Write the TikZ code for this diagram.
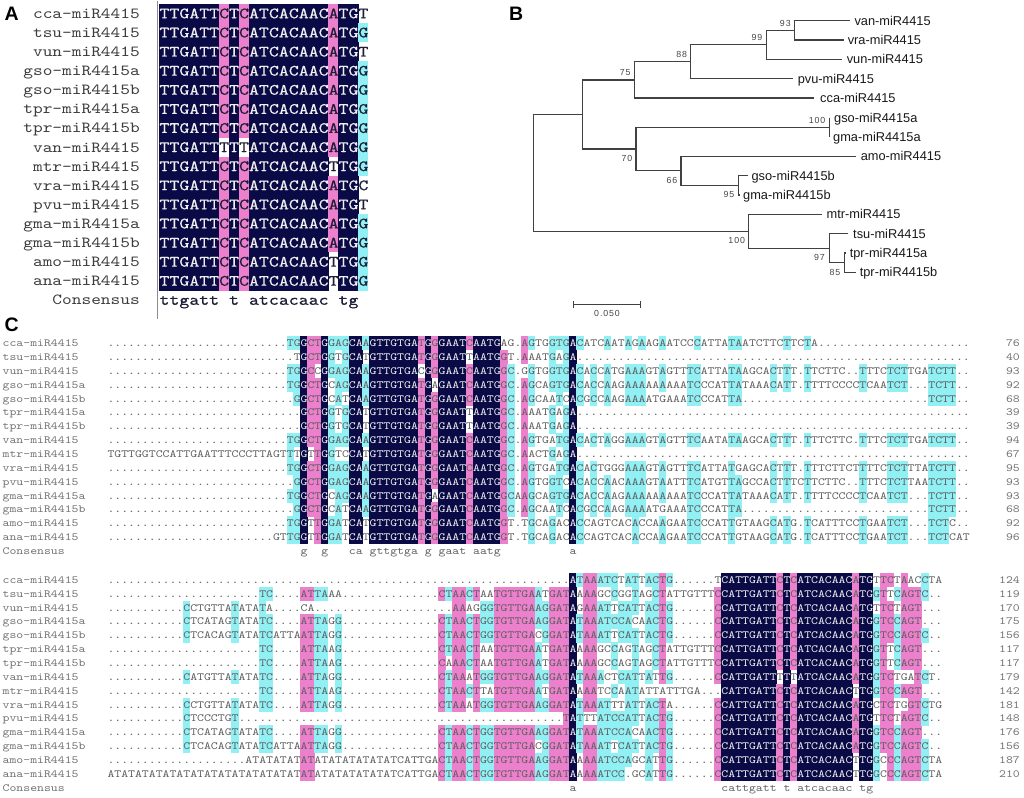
\documentclass[tikz,border=0pt]{standalone}
\usepackage{fontspec}
\setmainfont{Liberation Sans}
\newfontfamily\lab{Liberation Sans}
\newfontfamily\bootf{Liberation Sans}[LetterSpace=10]
\newfontfamily\seqfont{lmmono10-regular.otf}[FakeStretch=1.2]
\newfontfamily\seqfontA{lmmono10-regular.otf}[FakeStretch=1.2,FakeBold=0.4]
\definecolor{navyc}{RGB}{10,10,70}
\definecolor{pinkc}{RGB}{236,128,204}
\definecolor{cyanc}{RGB}{145,240,244}
\definecolor{seqwhite}{RGB}{240,240,240}
\definecolor{seqdark}{RGB}{30,30,55}
\definecolor{seqgray}{RGB}{95,95,95}
\definecolor{namegray}{RGB}{115,115,115}
\definecolor{nameA}{RGB}{60,60,60}
\definecolor{treegray}{RGB}{65,65,65}
\definecolor{bootc}{RGB}{70,70,70}
\definecolor{leafc}{RGB}{25,25,25}

\newcommand\blockfont{}
\newcommand\cellrect[5]{\fill[#5] (#1,#2) rectangle (#3,#4);}
\newcommand\rowtext[4]{\node[anchor=base west,inner sep=0pt,text=#3,font=\blockfont] at (#1,#2) {#4};}

\ExplSyntaxOn
\cs_new:Npn \gap #1 { \prg_replicate:nn {#1} {.} }
\cs_new:Npn \atrep #1 { \prg_replicate:nn {#1} {AT} }
\fp_new:N \l_aln_x_fp
\fp_new:N \l_aln_y_fp
\fp_new:N \l_aln_p_fp
\fp_new:N \l_aln_h_fp
\fp_new:N \l_aln_b_fp
\tl_new:N \l_aln_tc_tl
\int_new:N \l_aln_r_int
\int_new:N \l_aln_n_int
\int_new:N \l_aln_ca_int
\int_new:N \l_aln_cc_int
\int_new:N \l_aln_cg_int
\int_new:N \l_aln_ct_int
\int_new:N \l_aln_max_int
\int_new:N \l_aln_lvl_int
\tl_new:N \l_aln_best_tl
\tl_new:N \l_aln_low_tl
\tl_new:N \l_aln_ch_tl
\tl_new:N \l_aln_col_tl
\tl_new:N \l_aln_cons_tl
\tl_new:N \l_aln_i_tl
\tl_new:N \l_aln_j_tl
\bool_new:N \l_aln_match_bool

\NewDocumentCommand \alignblock { m m m m m m m }
  {
    \fp_set:Nn \l_aln_x_fp {#1}
    \fp_set:Nn \l_aln_y_fp {#2}
    \fp_set:Nn \l_aln_p_fp {#3}
    \fp_set:Nn \l_aln_h_fp {#4}
    \fp_set:Nn \l_aln_b_fp {#5}
    \tl_set:Nn \l_aln_tc_tl {#6}
    \aln_block:n {#7}
  }

\cs_new_protected:Npn \aln_block:n #1
  {
    \int_zero:N \l_aln_r_int
    \clist_map_inline:nn {#1}
      {
        \int_incr:N \l_aln_r_int
        \tl_clear_new:c { l_aln_row_ \int_use:N \l_aln_r_int _tl }
        \tl_set:cx { l_aln_row_ \int_use:N \l_aln_r_int _tl } { ##1 }
        \tl_clear_new:c { l_aln_txt_ \int_use:N \l_aln_r_int _tl }
      }
    \int_set:Nn \l_aln_n_int { \tl_count:c { l_aln_row_1_tl } }
    \tl_clear:N \l_aln_cons_tl
    \int_step_variable:nNn { \l_aln_n_int } \l_aln_j_tl
      {
        \int_zero:N \l_aln_ca_int
        \int_zero:N \l_aln_cc_int
        \int_zero:N \l_aln_cg_int
        \int_zero:N \l_aln_ct_int
        \int_step_variable:nNn { \l_aln_r_int } \l_aln_i_tl
          {
            \tl_set:Nx \l_aln_ch_tl { \tl_item:cn { l_aln_row_ \l_aln_i_tl _tl } { \l_aln_j_tl } }
            \exp_args:NV \str_case:nn \l_aln_ch_tl
              {
                {A} { \int_incr:N \l_aln_ca_int }
                {C} { \int_incr:N \l_aln_cc_int }
                {G} { \int_incr:N \l_aln_cg_int }
                {T} { \int_incr:N \l_aln_ct_int }
              }
          }
        \int_set_eq:NN \l_aln_max_int \l_aln_ca_int
        \tl_set:Nn \l_aln_best_tl {A}
        \tl_set:Nn \l_aln_low_tl {a}
        \int_compare:nNnT { \l_aln_cc_int } > { \l_aln_max_int }
          { \int_set_eq:NN \l_aln_max_int \l_aln_cc_int \tl_set:Nn \l_aln_best_tl {C} \tl_set:Nn \l_aln_low_tl {c} }
        \int_compare:nNnT { \l_aln_cg_int } > { \l_aln_max_int }
          { \int_set_eq:NN \l_aln_max_int \l_aln_cg_int \tl_set:Nn \l_aln_best_tl {G} \tl_set:Nn \l_aln_low_tl {g} }
        \int_compare:nNnT { \l_aln_ct_int } > { \l_aln_max_int }
          { \int_set_eq:NN \l_aln_max_int \l_aln_ct_int \tl_set:Nn \l_aln_best_tl {T} \tl_set:Nn \l_aln_low_tl {t} }
        \int_compare:nNnTF { \l_aln_max_int } = { \l_aln_r_int }
          { \int_set:Nn \l_aln_lvl_int {3} \tl_set:Nn \l_aln_col_tl {navyc} }
          {
            \int_compare:nNnTF { 4 * \l_aln_max_int } > { 3 * \l_aln_r_int - 1 }
              { \int_set:Nn \l_aln_lvl_int {2} \tl_set:Nn \l_aln_col_tl {pinkc} }
              {
                \int_compare:nNnTF { 2 * \l_aln_max_int } > { \l_aln_r_int - 1 }
                  { \int_set:Nn \l_aln_lvl_int {1} \tl_set:Nn \l_aln_col_tl {cyanc} }
                  { \int_set:Nn \l_aln_lvl_int {0} }
              }
          }
        \int_step_variable:nNn { \l_aln_r_int } \l_aln_i_tl
          {
            \tl_set:Nx \l_aln_ch_tl { \tl_item:cn { l_aln_row_ \l_aln_i_tl _tl } { \l_aln_j_tl } }
            \bool_set_false:N \l_aln_match_bool
            \int_compare:nNnT { \l_aln_lvl_int } > { 0 }
              { \tl_if_eq:NNT \l_aln_ch_tl \l_aln_best_tl { \bool_set_true:N \l_aln_match_bool } }
            \bool_if:NTF \l_aln_match_bool
              {
                \use:x
                  {
                    \exp_not:N \cellrect
                      { \fp_eval:n { \l_aln_x_fp + (\l_aln_j_tl - 1) * \l_aln_p_fp - 0.2 } }
                      { \fp_eval:n { \l_aln_y_fp + (\l_aln_i_tl - 1.5) * \l_aln_h_fp - 0.2 } }
                      { \fp_eval:n { \l_aln_x_fp + \l_aln_j_tl * \l_aln_p_fp + 0.2 } }
                      { \fp_eval:n { \l_aln_y_fp + (\l_aln_i_tl - 0.5) * \l_aln_h_fp + 0.2 } }
                      { \l_aln_col_tl }
                  }
                \int_compare:nNnTF { \l_aln_lvl_int } = { 3 }
                  { \tl_put_right:cx { l_aln_txt_ \l_aln_i_tl _tl } { \exp_not:N \textcolor {seqwhite} { \l_aln_ch_tl } } }
                  { \tl_put_right:cx { l_aln_txt_ \l_aln_i_tl _tl } { \l_aln_ch_tl } }
              }
              { \tl_put_right:cx { l_aln_txt_ \l_aln_i_tl _tl } { \l_aln_ch_tl } }
          }
        \int_compare:nNnTF { \l_aln_lvl_int } = { 3 }
          { \tl_put_right:Nx \l_aln_cons_tl { \l_aln_low_tl } }
          { \tl_put_right:Nn \l_aln_cons_tl { \phantom{x} } }
      }
    \int_step_variable:nNn { \l_aln_r_int } \l_aln_i_tl
      {
        \use:x
          {
            \exp_not:N \rowtext
              { \fp_eval:n { \l_aln_x_fp } }
              { \fp_eval:n { \l_aln_y_fp + (\l_aln_i_tl - 1) * \l_aln_h_fp + \l_aln_b_fp } }
              { \l_aln_tc_tl }
              { \exp_not:v { l_aln_txt_ \l_aln_i_tl _tl } }
          }
      }
    \use:x
      {
        \exp_not:N \rowtext
          { \fp_eval:n { \l_aln_x_fp } }
          { \fp_eval:n { \l_aln_y_fp + \l_aln_r_int * \l_aln_h_fp + \l_aln_b_fp } }
          { \l_aln_tc_tl }
          { \exp_not:V \l_aln_cons_tl }
      }
  }
\ExplSyntaxOff

\tikzset{
  tree/.style={draw=treegray, line width=1.2pt},
  leaf/.style={anchor=base west, inner sep=0pt, text=leafc, font=\lab\fontsize{12.8}{14}\selectfont},
  boot/.style={anchor=base, inner sep=0pt, text=bootc, font=\bootf\fontsize{8.8}{10}\selectfont},
  panel/.style={anchor=base west, inner sep=0pt, font=\lab\bfseries\fontsize{19.5}{21}\selectfont},
  nameA/.style={anchor=base east, inner sep=0pt, text=nameA, font=\seqfont\fontsize{15.4}{17}\selectfont},
  nameC/.style={anchor=base west, inner sep=0pt, text=namegray, font=\seqfont\fontsize{10.95}{12}\selectfont},
  numC/.style={anchor=base east, inner sep=0pt, text=namegray, font=\seqfont\fontsize{10.95}{12}\selectfont},
}

\begin{document}
\begin{tikzpicture}[x=1pt,y=-1pt]
\useasboundingbox (0,0) rectangle (1024,797);
\fill[white] (0,0) rectangle (1024,797);

% ---------------- Panel A ----------------
\node[panel] (labA) at (4.5,20.7) {A};
\draw[color={rgb,255:red,140;green,140;blue,140}, line width=1.8pt] (157.5,1) -- (157.5,319);
\foreach \nm [count=\i] in {cca-miR4415,tsu-miR4415,vun-miR4415,gso-miR4415a,gso-miR4415b,tpr-miR4415a,tpr-miR4415b,van-miR4415,mtr-miR4415,vra-miR4415,pvu-miR4415,gma-miR4415a,gma-miR4415b,amo-miR4415,ana-miR4415,Consensus}
  \node[nameA] (an\i) at (140,{13.5+(\i-1)*19.1+4.8}) {\nm};
\renewcommand\blockfont{\seqfontA\fontsize{15.79}{17}\selectfont}
\alignblock{159.3}{13.5}{9.95}{19.1}{4.8}{seqdark}{
TTGATTCTCATCACAACATGT,
TTGATTCTCATCACAACATGG,
TTGATTCTCATCACAACATGT,
TTGATTCTCATCACAACATGG,
TTGATTCTCATCACAACATGG,
TTGATTCTCATCACAACATGG,
TTGATTCTCATCACAACATGG,
TTGATTTTTATCACAACATGG,
TTGATTCTCATCACAACTTGG,
TTGATTCTCATCACAACATGC,
TTGATTCTCATCACAACATGT,
TTGATTCTCATCACAACATGG,
TTGATTCTCATCACAACATGG,
TTGATTCTCATCACAACTTGG,
TTGATTCTCATCACAACTTGG}

% ---------------- Panel B ----------------
\node[panel] (labB) at (509,20.7) {B};
\coordinate (tvan) at (850,20.7);
\coordinate (tvra) at (843.5,40.1);
\coordinate (tvun) at (842,59.4);
\coordinate (tpvu) at (792.5,78.8);
\coordinate (tcca) at (813.5,98.1);
\coordinate (tgsoa) at (829.3,117.5);
\coordinate (tgmaa) at (829.3,136.8);
\coordinate (tamo) at (856,156.2);
\coordinate (tgsob) at (748.3,175.5);
\coordinate (tgmab) at (739.5,194.9);
\coordinate (tmtr) at (821.7,214.2);
\coordinate (ttsu) at (848.3,233.6);
\coordinate (ttpra) at (846,252.9);
\coordinate (ttprb) at (856,272.3);
\coordinate (n93) at (794.7,30.4);
\coordinate (n99) at (766.7,44.9);
\coordinate (n88) at (690.7,61.85);
\coordinate (n75) at (634.3,80);
\coordinate (nGa) at (829.3,127.15);
\coordinate (n95) at (738.7,185.2);
\coordinate (n66) at (681,170.7);
\coordinate (n70) at (636,148.9);
\coordinate (nA) at (582.7,114.5);
\coordinate (n85) at (844.3,262.6);
\coordinate (n97) at (829.3,248.1);
\coordinate (n100) at (748.3,231.2);
\coordinate (root) at (533.3,172.8);
\draw[tree] (tvan) -| (n93) |- (tvra);
\draw[tree] (n93) -| (n99) |- (tvun);
\draw[tree] (n99) -| (n88) |- (tpvu);
\draw[tree] (n88) -| (n75) |- (tcca);
\draw[tree] (tgsoa) -- (tgmaa);
\draw[tree] (tgsob) -| (n95) |- (tgmab);
\draw[tree] (tamo) -| (n66) |- (n95);
\draw[tree] (nGa) -| (n70) |- (n66);
\draw[tree] (n75) -| (nA) |- (n70);
\draw[tree] (ttpra) -| (n85) |- (ttprb);
\draw[tree] (ttsu) -| (n97) |- (n85);
\draw[tree] (tmtr) -| (n100) |- (n97);
\draw[tree] (nA) -| (root) |- (n100);

\node[leaf] (lvan) at (854.3,25.3) {van-miR4415};
\node[leaf] (lvra) at (847.6,44.7) {vra-miR4415};
\node[leaf] (lvun) at (846.6,64.0) {vun-miR4415};
\node[leaf] (lpvu) at (797.6,83.4) {pvu-miR4415};
\node[leaf] (lcca) at (820.0,102.7) {cca-miR4415};
\node[leaf] (lgsoa) at (834.0,122.1) {gso-miR4415a};
\node[leaf] (lgmaa) at (833.0,141.4) {gma-miR4415a};
\node[leaf] (lamo) at (860.6,160.8) {amo-miR4415};
\node[leaf] (lgsob) at (751.4,180.1) {gso-miR4415b};
\node[leaf] (lgmab) at (743.0,199.5) {gma-miR4415b};
\node[leaf] (lmtr) at (826.4,218.8) {mtr-miR4415};
\node[leaf] (ltsu) at (853.0,238.2) {tsu-miR4415};
\node[leaf] (ltpra) at (849.6,257.5) {tpr-miR4415a};
\node[leaf] (ltprb) at (859.6,276.9) {tpr-miR4415b};

\node[boot] (b93) at (785.3,26.4) {93};
\node[boot] (b99) at (757,40.6) {99};
\node[boot] (b88) at (681.7,57.4) {88};
\node[boot] (b75) at (625.3,75.8) {75};
\node[boot] (b70) at (627,161.4) {70};
\node[boot] (b100a) at (817,123.1) {100};
\node[boot] (b66) at (672,183.1) {66};
\node[boot] (b95) at (729,197.4) {95};
\node[boot] (b100b) at (736.7,243.8) {100};
\node[boot] (b97) at (819.5,260.8) {97};
\node[boot] (b85) at (835,275.8) {85};

\coordinate (sb1) at (573.3,304);
\coordinate (sb2) at (640.7,304);
\draw[tree, line width=1pt] (sb1) -- (sb2);
\draw[tree, line width=1pt] ([yshift=-3.5pt]sb1) -- ([yshift=3.5pt]sb1);
\draw[tree, line width=1pt] ([yshift=-3.5pt]sb2) -- ([yshift=3.5pt]sb2);
\node[boot] (sbl) at (607,316.4) {0.050};

% ---------------- Panel C ----------------
\node[panel] (labC) at (4.5,331) {C};
\renewcommand\blockfont{\seqfont\fontsize{10.95}{12}\selectfont}
\foreach \nm [count=\i] in {cca-miR4415,tsu-miR4415,vun-miR4415,gso-miR4415a,gso-miR4415b,tpr-miR4415a,tpr-miR4415b,van-miR4415,mtr-miR4415,vra-miR4415,pvu-miR4415,gma-miR4415a,gma-miR4415b,amo-miR4415,ana-miR4415,Consensus}
  {\node[nameC] (tn\i) at (2.5,{343.3+(\i-1)*13.86+3.35}) {\nm};
   \node[nameC] (bn\i) at (2.5,{580+(\i-1)*13.86+3.35}) {\nm};}
\foreach \n [count=\i] in {76,40,93,92,68,39,39,94,67,95,93,93,68,92,96}
  \node[numC] (tq\i) at (1020,{343.3+(\i-1)*13.86+3.35}) {\n};
\foreach \n [count=\i] in {124,119,170,175,156,117,117,179,142,181,148,176,156,187,210}
  \node[numC] (bq\i) at (1020,{580+(\i-1)*13.86+3.35}) {\n};

\alignblock{107.3}{343.3}{6.9}{13.86}{3.35}{seqgray}{
\gap{26}TGGCTGGAGCAAGTTGTGATGGGAATCAATGAG\gap{1}AGTGGTGACATCAATAGAAGAATCCCATTATAATCTTCTTCTA\gap{22},
\gap{27}TGCTGGTGCATGTTGTGATGGGAATTAATGGT\gap{1}AAATGAGA\gap{57},
\gap{26}TGGCCGGAGCAAGTTGTGACGGGAATCAATGGC\gap{1}GGTGGTGACACCATGAAAGTAGTTTCATTATAAGCACTTT\gap{1}TTCTTC\gap{2}TTTCTCTTGATCTT\gap{2},
\gap{26}TGGCTGCAGCAAGTTGTGATGAGAATCAATGGC\gap{1}AGCAGTGACACCAAGAAAAAAAAATCCCATTATAAACATT\gap{1}TTTTCCCCTCAATCT\gap{3}TCTT\gap{2},
\gap{27}GGCTGCATCAAGTTGTGATGGGAATCAATGGC\gap{1}AGCAATCACGCCAAGAAAATGAAATCCCATTA\gap{27}TCTT\gap{2},
\gap{28}GCTGGTGCATGTTGTGATGGGAATTAATGGC\gap{1}AAATGAGA\gap{57},
\gap{28}GCTGGTGCATGTTGTGATGGGAATTAATGGC\gap{1}AAATGAGA\gap{57},
\gap{26}TGGCTGGAGCAAGTTGTGATGGGAATCAATGGC\gap{1}AGTGATGACACTAGGAAAGTAGTTTCAATATAAGCACTTT\gap{1}TTTCTTC\gap{1}TTTCTCTTGATCTT\gap{2},
TGTTGGTCCATTGAATTTCCCTTAGTTTGTTGGTCCATGTTGTGATGGGAATCAATGGC\gap{1}AACTGAGA\gap{57},
\gap{26}TGGCTGGAGCAAGTTGTGATGGGAATCAATGGC\gap{1}AGTGATGACACTGGGAAAGTAGTTTCATTATGAGCACTTT\gap{1}TTTCTTCTTTTCTCTTTATCTT\gap{2},
\gap{27}GGCTGGAGCAAGTTGTGATGGGAATCAATGGC\gap{1}AGTGGTCACACCAACAAAGTAATTTCATGTTAGCCACTTTCTTCTTC\gap{2}TTTCTCTTAATCTT\gap{2},
\gap{26}TGGCTGCAGCAAGTTGTGATGAGAATCAATGGCAAGCAGTGACACCAAGAAAAAAAAATCCCATTATAAACATT\gap{1}TTTTCCCCTCAATCT\gap{3}TCTT\gap{2},
\gap{27}GGCTGCATCAAGTTGTGATGGGAATCAATGGC\gap{1}AGCAATCACGCCAAGAAAATGAAATCCCATTA\gap{27}TCTT\gap{2},
\gap{26}TGGTTGGATCATGTTGTGATGGGAATCAATGGT\gap{1}TGCAGACACCAGTCACACCAAGAATCCCATTGTAAGCATG\gap{1}TCATTTCCTGAATCT\gap{3}TCTC\gap{2},
\gap{24}GTTGGTTGGATCATGTTGTGATGGGAATCAATGGT\gap{1}TGCAGACACCAGTCACACCAAGAATCCCATTGTAAGCATG\gap{1}TCATTTCCTGAATCT\gap{3}TCTCAT}

\alignblock{107.3}{580}{6.9}{13.86}{3.35}{seqgray}{
\gap{67}ATAAATCTATTACTG\gap{6}TCATTGATTCTCATCACAACATGTTCTAACCTA,
\gap{22}TC\gap{4}ATTAAA\gap{14}CTAACTAATGTTGAATGATAAAAGCCGGTAGCTATTGTTTCCATTGATTCTCATCACAACATGGTTCAGTC\gap{2},
\gap{11}CCTGTTATATATA\gap{4}CA\gap{20}AAAGGGTGTTGAAGGATAGAAATTCATTACTG\gap{6}CCATTGATTCTCATCACAACATGTTCTAGT\gap{3},
\gap{11}CTCATAGTATATC\gap{4}ATTAGG\gap{14}CTAACTGGTGTTGAAGGATATAAATCCACAACTG\gap{6}CCATTGATTCTCATCACAACATGGTCCAGT\gap{3},
\gap{11}CTCACAGTATATCATTAATTAGG\gap{14}CTAACTGGTGTTGACGGATATAAATTCATTACTG\gap{6}CCATTGATTCTCATCACAACATGGTCCAGTC\gap{2},
\gap{22}TC\gap{4}ATTAAG\gap{14}CTAACTAATGTTGAATGATAAAAGCCAGTAGCTATTGTTTCCATTGATTCTCATCACAACATGGTTCAGT\gap{3},
\gap{22}TC\gap{4}ATTAAG\gap{14}CAAACTAATGTTGAATGATAAAAGCCAGTAGCTATTGTTTCCATTGATTCTCATCACAACATGGTTCAGT\gap{3},
\gap{11}CATGTTATATATC\gap{4}ATTAGG\gap{14}CTAAATGGTGTTGAAGGATATAAACTCATTATTG\gap{6}CCATTGATTTTTATCACAACATGGTCTGATCT\gap{1},
\gap{22}TC\gap{4}ATTAAG\gap{14}CTAACTTATGTTGAATGATAAAATCCAATATTATTTGA\gap{3}CATTGATTCTCATCACAACTTGGTCCAGT\gap{3},
\gap{11}CCTGTTATATATC\gap{4}ATTAGG\gap{14}CTAAATGGTGTTGAAGGATATAAATTTATTACTA\gap{6}CCATTGATTCTCATCACAACATGCTCTGGTCTG,
\gap{11}CTCCCTGT\gap{47}TATTTATCCATTACTG\gap{6}CCATTGATTCTCATCACAACATGTTCTAGTC\gap{2},
\gap{11}CTCATAGTATATC\gap{4}ATTAGG\gap{14}CTAACTGGTGTTGAAGGATATAAATCCACAACTG\gap{6}CCATTGATTCTCATCACAACATGGTCCAGT\gap{3},
\gap{11}CTCACAGTATATCATTAATTAGG\gap{14}CTAACTGGTGTTGACGGATATAAATTCATTACTG\gap{6}CCATTGATTCTCATCACAACATGGTCCAGTC\gap{2},
\gap{20}\atrep{11}CATTGACTAACTGGTGTTGAAGGATAAAAATCCAGCATTG\gap{6}CCATTGATTCTCATCACAACTTGGCCCAGTCTA,
\atrep{21}CATTGACTAACTGGTGTTGAAGGATAAAAATCC.GCATTG\gap{6}CCATTGATTCTCATCACAACTTGGCCCAGTCTA}
\end{tikzpicture}
\end{document}
